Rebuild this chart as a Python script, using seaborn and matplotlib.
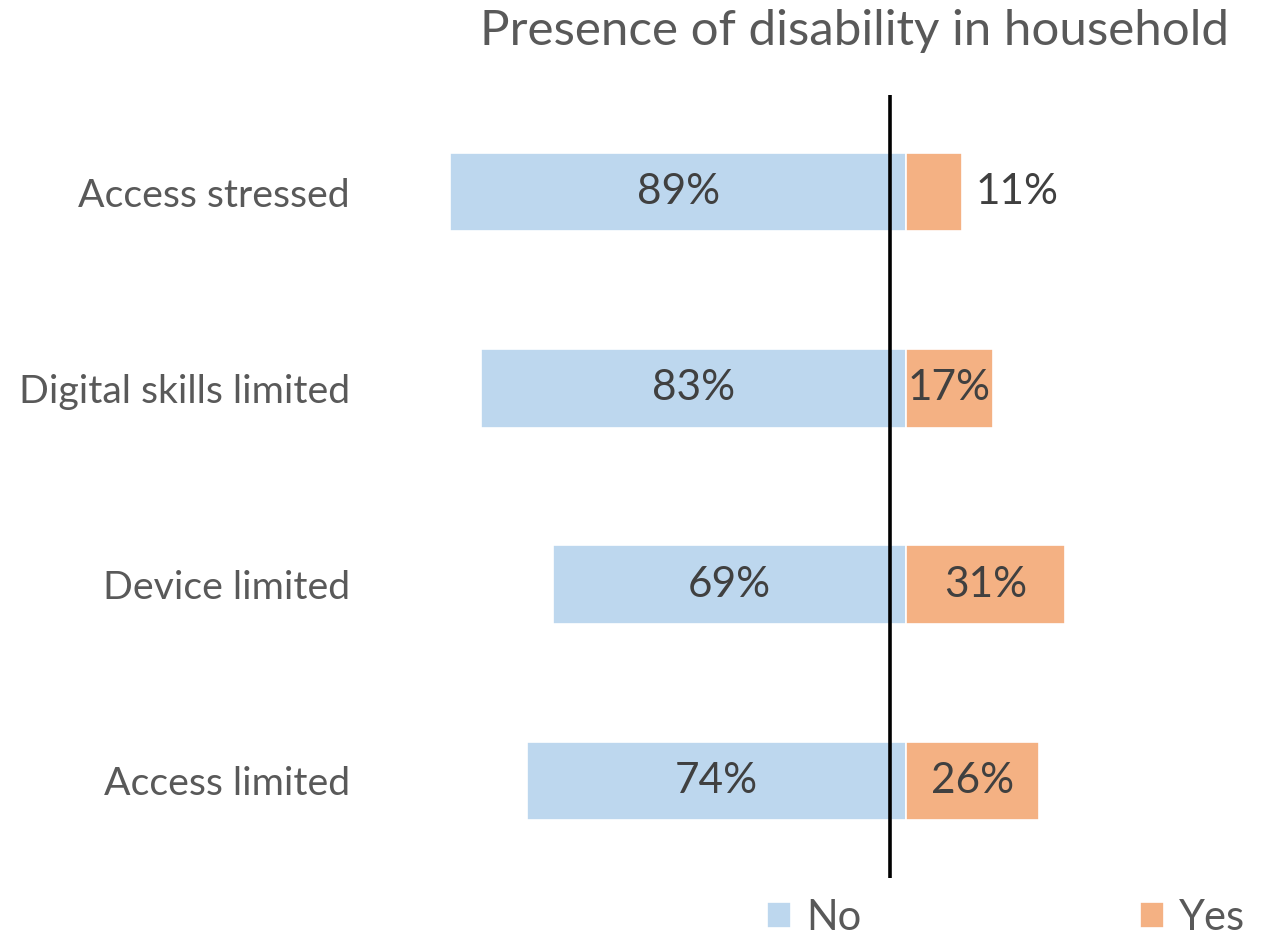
import matplotlib
matplotlib.use("Agg")
import matplotlib.pyplot as plt
import seaborn as sns
import pandas as pd

categories = ["Access stressed", "Digital skills limited", "Device limited", "Access limited"]
no_values = [89, 83, 69, 74]
yes_values = [11, 17, 31, 26]
series_names = ["No", "Yes"]
title = "Presence of disability in household"

colors = {"No": "#BDD7EE", "Yes": "#F4B183"}

sns.set_theme(style="white")
plt.rcParams["font.family"] = ["Lato", "DejaVu Sans"]

rows = []
for c, n, y in zip(categories, no_values, yes_values):
    rows.append({"category": c, "response": "No", "value": -n})
    rows.append({"category": c, "response": "Yes", "value": y})
df = pd.DataFrame(rows)

W, H = 1263, 935
fig = plt.figure(figsize=(W / 100, H / 100), dpi=100)
ax_left_px, ax_right_px = 379, 1263
ax_top_px, ax_bot_px = 95, 878
ax = fig.add_axes([ax_left_px / W, (H - ax_bot_px) / H,
                   (ax_right_px - ax_left_px) / W, (ax_bot_px - ax_top_px) / H])

sns.barplot(data=df, x="value", y="category", hue="response", order=categories,
            hue_order=series_names, palette=colors, dodge=False, width=0.40,
            saturation=1, edgecolor="white", linewidth=1.2, orient="h", ax=ax)

px_per_unit = 5.12
zero_px = 906
ax.set_xlim((ax_left_px - zero_px) / px_per_unit, (ax_right_px - zero_px) / px_per_unit)
ax.set_ylim(3.495, -0.495)

ax.axvline((889.5 - zero_px) / px_per_unit, color="black", linewidth=2.6, zorder=5)

label_color = "#404040"
fs_label = 30.5
for i, (n, y) in enumerate(zip(no_values, yes_values)):
    ax.text(-n / 2, i, f"{n}%", ha="center", va="center", fontsize=fs_label, color=label_color, zorder=6)
    if y < 15:
        ax.text(y + 2.5, i, f"{y}%", ha="left", va="center", fontsize=fs_label, color=label_color, zorder=6)
    else:
        ax.text(y / 2, i, f"{y}%", ha="center", va="center", fontsize=fs_label, color=label_color, zorder=6)

ax.set_xlabel("")
ax.set_ylabel("")
ax.set_xticks([])
ax.tick_params(axis="y", length=0, pad=21, labelsize=28.3, labelcolor="#595959")
for s in ax.spines.values():
    s.set_visible(False)

fig.text(855 / W, 1 - 31 / H, title, ha="center", va="center", fontsize=35.5, color="#595959")

sns.move_legend(ax, loc="lower left", bbox_to_anchor=(767 / W, -2 / H), bbox_transform=fig.transFigure,
                ncol=2, frameon=False, title=None, fontsize=30, labelcolor="#595959",
                handlelength=0.58, handleheight=0.58, handletextpad=0.35, columnspacing=6.7,
                borderpad=0.0, borderaxespad=0.0)

fig.savefig("out.png", dpi=100)
